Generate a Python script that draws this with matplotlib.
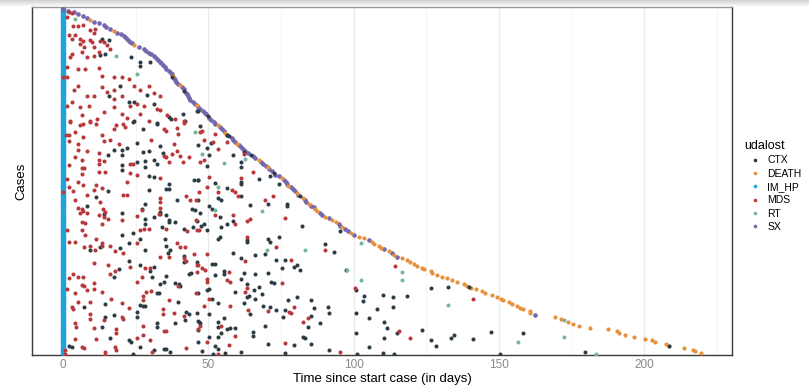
import numpy as np
import matplotlib
matplotlib.use("Agg")
import matplotlib.pyplot as plt
from matplotlib.lines import Line2D

plt.rcParams['font.family'] = ['Liberation Sans', 'DejaVu Sans']

# ---- data: one row per case, case 1 = longest follow-up (bottom) ----
end_day = [219.7, 217.7, 216.9, 213.7, 208.7, 207.6, 203.8, 202.6, 200.5, 196.7,
           193.4, 191.5, 190.6, 187.7, 181.5, 177.7, 175.6, 173.7, 172.5, 171.5,
           169.4, 162.5, 160.8, 160.7, 158.5, 157.3, 156.4, 154.7, 153.6, 151.6,
           150.7, 149.5, 147.8, 145.4, 144.2, 142.0, 140.4, 139.1, 138.0, 135.7,
           134.0, 132.3, 130.6, 128.9, 127.1, 126.5, 124.2, 123.5, 122.0, 120.8,
           119.5, 118.5, 116.8, 115.1, 114.0, 113.1, 112.2, 110.5, 109.4, 108.7,
           107.0, 106.2, 105.3, 103.6, 101.9, 100.1, 99.0, 98.1, 97.2, 96.1,
           95.3, 94.9, 93.8, 92.6, 91.5, 90.3, 89.2, 88.4, 87.5, 86.9,
           86.3, 85.2, 84.6, 83.8, 83.4, 82.5, 81.7, 81.0, 80.5, 80.0,
           79.1, 78.3, 77.6, 77.1, 76.6, 76.0, 75.2, 74.4, 73.1, 72.5,
           71.8, 71.0, 70.4, 69.7, 69.0, 68.2, 67.5, 66.2, 65.4, 64.6,
           63.8, 62.8, 62.0, 61.3, 60.6, 60.0, 59.3, 58.6, 58.0, 57.2,
           56.5, 55.9, 55.3, 54.6, 54.0, 53.4, 52.4, 51.8, 51.0, 50.4,
           49.8, 49.3, 49.0, 48.2, 47.3, 46.6, 46.1, 45.5, 44.6, 43.8,
           43.4, 43.0, 42.6, 42.2, 41.8, 41.5, 40.8, 40.2, 39.6, 39.0,
           38.6, 38.2, 37.8, 37.4, 37.0, 36.4, 35.6, 35.0, 34.4, 33.8,
           33.5, 32.8, 32.0, 31.2, 30.4, 29.6, 28.7, 27.7, 26.0, 24.3,
           23.6, 23.0, 22.3, 21.6, 21.0, 19.8, 18.6, 17.4, 16.0, 14.8,
           14.0, 12.5, 10.8, 9.3, 8.2, 7.0, 5.3, 3.6, 1.8, 0.1]

# last event of each case: D=DEATH, S=SX, C=CTX, R=RT
end_code = ("DDDDDDDDDDDDDDDDDDRDDSDDDDDDDDD"
            "DDDDDDDDDDDDDDDDD"
            "DDDDDSDSDS"
            "DDDDSDDSD"
            "SSDSSDDSDSSDDS"
            "SDSSDCSDS"
            "SSDSSSDSSCSSDS"
            "SSDSSCSS"
            "SSSDSSSCSD"
            "SSSDSSSSCSS"
            "SSSDSSS"
            "SSSSCSSDSS"
            "SSDSSSSSSS"
            "SSSSSSSSSD"
            "SSSSSSSDSS"
            "SSSDSSSSSS")

# other events: (day, case)
mds = [(2.2,188.4),(3.0,187.6),(1.5,185.3),(5,180.7),(3.4,180.4),(7,181),(9.3,178.6),(11,179),
       (10.5,176.7),(2.2,175.6),(4.2,175.6),(5.7,173.5),(7,172.5),(5.7,170.7),(7.3,168.9),
       (9.1,173),(9.9,171.6),(12.8,172.5),(14,171.6),(10.5,168.9),(12.2,166.2),(15.1,170.2),
       (16.2,168),(10.5,164.3),(6.5,166.2),(3,165.2),(2.4,163.4),(8.2,163.4),(1.3,158),
       (5.3,156.7),(7.6,156.7),(12.2,157.4),(13.4,153),(17.4,152.5),(20.3,152.8),(22.6,151.5),
       (5.3,147.9),(8.2,142.4),(10.5,142.1),(13.4,147),(15.1,144.3),(17.4,145.2),(17.4,140.6),
       (20.3,142.4),(24.3,147.9),(26.6,145.7),(29.5,147.9),(31.2,143.9),(33.5,142.4),
       (27.7,136.9),(32.3,135.1),(23.1,136.9),(25.4,137.9),(17.4,136),(14,133.3),(8.8,136.9),
       (5.9,136),(3,138.8),(1.3,136.9),(6.5,131.5),(9.3,128.7),(11.6,129.7),(20.3,132.4),
       (22,130),(26.6,132.4),(29.5,128.7),(33.5,134.2),(35.8,131.5),(38.7,129.7),(41.5,128.2),
       (2.4,128.2),(3.6,145.2),(1.3,152.5),(3,173.5),
       (2.4,127.8),(5.9,126.5),(6.8,126.8),(9.3,128.1),(11.4,126.9),(17.4,124.1),(18.3,126.5),
       (20.6,126.9),(21.2,125.4),(1.1,120.5),(2.2,120.5),(4.2,122.3),(7,119.6),(13.4,120.5),
       (14.2,117.4),(16.2,117.8),(19.1,115.6),(2.2,117.4),(5.3,115.6),(8.2,111.9),(5.3,112.3),
       (12.2,111),(4.2,108.6),(6.5,106.8),(12.2,107.2),(12.2,104.6),(14,106.4),(2.2,104.1),
       (6.5,102.8),(7.3,102.6),(6.5,99.5),(14.5,100.4),(12.2,100.4),(23.1,105),(24,105),
       (23.1,99.9),(22,94.9),(25.4,98.6),(5.3,94.9),(1.3,96.8),(7,93.1),(10.5,90.4),(11.4,93.1),
       (13.4,91.8),(2.2,92.2),(3.4,89.8),(8.2,87.6),(4.2,85.3),(12.6,84),(13.7,80.3),(14.3,78.5),
       (14,75.8),(12.2,76.7),(15.4,74.9),(5.3,80.9),(6.5,80.3),(7,79.1),(5.9,78),(8.2,77.8),
       (6.5,73),(7.6,72.6),(6.5,68.5),(7.6,65.7),(1.3,68.8),(11.4,63.9),(13.4,71.8),(20.8,87.6),
       (22,87.6),(20.3,74.3),(25.4,76.1),(27.2,79.4),(27.7,69),(29.5,69.4),(33.3,86.4),(33.5,84),
       (33.3,80.9),(34.6,109),(35.5,108.6),(36.4,105.9),(37.5,110.4),(39.2,111.9),(40.4,109),
       (43.3,108.6),(41.3,105.9),(38.3,115.6),(39.5,121.4),(39.2,124.7),(41.5,127.2),(34.6,124.1),
       (35.5,123.2),(30.3,118.1),(33.3,97.3),(42.4,87.1),(43.8,85.3),(45.6,84.9),(46.7,89.5),
       (45.6,73.9),(46.7,68.8),(42.7,68.1),(35.5,69.4),(26.6,68.5),(32.9,77.6),
       (2.2,62.1),(4.2,62.1),(7.3,59.3),(9.1,59.7),(13.4,61.2),(13.4,59.8),(11.1,57.9),(16.2,59.7),
       (18,57.2),(20.8,56.1),(25.4,61.2),(10.5,50.6),(15.4,49.3),(16.2,44.7),(18,46.2),(23.1,48.4),
       (25.4,40.2),(27.2,42.6),(28.3,48),(30,48),(33.5,53.9),(36.4,53.9),(39.2,61.5),(40.1,59.3),
       (41.5,53),(42.4,51.7),(45,55.7),(46.4,49.3),(42.1,59.3),(3.4,44.7),(2.2,42),(5.3,42.9),
       (7,42.9),(6.5,38.4),(7.3,37.9),(8.2,35.6),(10.5,39.3),(10.5,36),(13.4,34.7),(4.2,34.2),
       (1.3,36),(5.3,29.2),(9.3,29.2),(3,26.5),(3.4,25.2),(9.1,22.5),(9.3,19.6),(4.2,17.7),
       (4.5,15.2),(10.5,14.6),(14,19.2),(18.3,14.1),(18.3,11.9),(20.3,21),(20.6,19.6),(20.3,28.3),
       (16.5,30.5),(22.6,25.6),(27.5,32.3),(27.5,30.2),(28.7,34.7),(30.3,35.3),(27.5,15.9),
       (27.5,11),(30,8.3),(25.4,9.2),(34.4,25.1),(34.4,22.5),(36.4,30.2),(38.3,23.2),(34.6,13.4),
       (35.5,13.4),(41.8,21.4),(42.4,3.7),(46.1,45.7),(45.6,34.2),(39.5,37.8),(11.4,8.6),(6.5,4.2),
       (7.3,3.7),(4.2,8.6),(14.3,1.9),(14.3,0.2),(18,4.6),(18.3,2.8),(30.6,1.9),(0.8,0.5),(0.8,3),
       (52.4,121.4),(51.5,116.8),(48.4,118.1),(47.8,123.2),(47.1,122.3),(53.3,113.2),(56.4,116.8),
       (62.2,110.4),(47.2,105.9),(48.4,106.8),(65.3,100.4),(50.3,97.6),(61.4,97.3),(49.5,92.2),
       (53.3,89.4),(58.1,90.7),(59.3,89.4),(60.2,87.1),(69.4,84.9),(72.2,87.1),
       (52.4,76.7),(58.4,76.7),(59.3,72.1),(63.3,73.6),(64.5,74.9),(46.1,68.5),(63.3,64.8),
       (49.5,55.7),(62.5,51.7),(46.1,49.3),(48,47.5),(48.7,46.6),(57.2,45.7),(56.4,41.1),
       (57.6,40.2),(49.5,41.5),(49.5,39.8),(50.3,30.5),(57.6,26.9),(63.3,36.5),(62.5,34.7),
       (63.7,24.7),(70.6,24.3),(73.3,59.3),(78.6,52.4),(75.4,39.6),(77.7,23.8),(78.6,23.3),
       (79.4,26.1),(82.5,18.3),(84.4,20.1),(90.3,57.5),(76.5,75.4),(48.4,26.9),(47.2,15.9),
       (46.4,14.1),(54.5,15.9),(59.3,10.4),(57.2,5.5),(49.5,7.3),(53.3,0.6),(76.5,6.4),
       (100.4,36.5),(114.2,48.7),(115.6,13.3),(119.4,9.1),(141.3,31),(95.3,1.8),
       (0,152.8),(0,89.3)]

ctx = [(13.4,173.5),(15.7,173.1),(12.6,164.7),(14.3,165.2),(23.4,163.4),(26.4,160.7),(26.4,158.5),
       (30,160.7),(19.5,147.5),(15.7,142.4),(22.6,138.8),(24.3,138.8),(28.9,142.8),(31.4,137.9),
       (36.4,130.6),(37,129.7),(41.3,132.4),(42.1,128.7),(32.3,127.5),(24.3,128.2),(37.5,152.5),
       (46.1,133.7),
       (24.1,127.8),(27.5,124.1),(32.3,126.9),(25.4,116.3),(22,113.7),(20.3,112.3),(17.4,112.6),
       (15.4,109.5),(20.3,109.5),(20.3,104.1),(20.3,101.7),(25.4,105.9),(27.5,111.4),(29.5,111.9),
       (28.3,106.4),(28.3,103.2),(29.5,98),(31.4,97.7),(32.3,105),(33.3,114.5),(34.4,110.8),
       (31.2,107.2),(15.4,89.8),(11.4,86.7),(29.5,90.7),(35.5,91.3),(36.4,91),(36.4,93.7),
       (39.2,84.9),(28.3,83.1),(27.2,80.3),(33.5,78.5),(33.5,77.5),(35.5,76.7),(36.4,74.3),
       (38.7,73),(36.4,73),(31.4,75.8),(28.3,74.9),(28.3,72.1),(34.1,70.3),(41.5,69.4),(44.7,70.3),
       (46.1,73.6),(44.4,80.3),(45.5,79.4),(46.4,95.9),(45.2,95.9),(24.1,66.7),(26.4,63.9),
       (20.3,78),(14,77.6),(20.3,65.7),(8.2,81.6),(35.2,63.9),
       (9.3,57.9),(12.6,59.3),(19.5,59),(22.6,61.5),(28.3,57.9),(35.5,59.7),(36,56.1),(36.9,57.5),
       (41.8,54.2),(41.8,51.1),(46.1,51.1),(17.4,42.9),(19.1,47),(22.6,51.7),(26.4,49.3),(30,46.2),
       (31.2,48.4),(30.6,42.9),(33.3,38.9),(34.6,40.2),(35.5,43.3),(38.7,39.3),(39.8,38.9),
       (40.4,37.8),(43.3,44.4),(44.1,44.8),(46.4,34.2),(39.5,29.2),(32.3,34.2),(33.1,34.2),
       (26.6,27.4),(27.5,26.9),(28.3,26.9),(25.4,23.8),(25.4,20.7),(17.4,22),(14.5,20.7),(14.3,28),
       (7.3,26.1),(13.4,15.2),(16.2,9.2),(22.6,8.3),(23.4,7.3),(32.3,17.4),(32.3,15.2),(38.7,17.4),
       (42.4,23.8),(43.2,22.5),(42.1,19.2),(46.4,18.8),(46.4,13.7),(26.4,4.2),(24.1,0.3),(2.2,5),
       (3,4.6),(31.2,2.8),(34.6,3.1),(35.5,3.1),(36.7,1.9),
       (46.4,134.1),(47.2,125.9),(46.4,115),(51,116.3),(49.5,113.7),(50.3,109.5),(49.5,104),
       (46.6,96.2),(52.4,94.4),(56.4,91.8),(53.3,86.3),(54.5,85.3),(58.4,109.5),(61.4,105.9),
       (61.4,103.1),(61.4,94.9),(61.4,94),(67.3,96.7),(71.4,98),(74.2,94),(77.1,83),(77.1,81.6),
       (61.4,87.1),(64.5,82.1),(70.6,82.7),(46.4,85.3),(50.3,81.6),(51.2,80.3),(62.2,111.3),
       (56.4,120.5),
       (47.2,78),(54.1,75.8),(47.6,70.7),(48.4,71.8),(49.5,68.8),(54.5,70.3),(56.4,72.1),(58.4,73.6),
       (82.3,70.7),(90.3,60.8),(93.2,56.6),(53.3,63.4),(54.1,64.5),(63.3,63),(63.3,62),(58.4,56.1),
       (66.2,54.8),(69.4,55.3),(70.6,63.4),(71.4,62.1),(73.3,52.4),(76.5,52.4),(74.2,64.8),
       (61.4,53.5),(51.2,50.2),(52.4,49.9),(55.3,46.2),(55.3,44.4),(52.4,43.8),(61.4,41.5),
       (62.2,45.1),(66.2,44.4),(70.6,44.8),(71.7,40.2),(72.5,39.6),(75.4,47.5),(79.4,48.4),
       (80.6,49.3),(81.7,46.6),(67.6,37.1),(65.6,35.6),(63.3,38.9),(63.3,32),(59.3,34.7),(49.5,35.6),
       (50.3,36),(51.2,31),(53.5,28.7),(66.2,30.5),(68.5,33.4),(62.2,28.3),(64.5,22.5),(68.7,26.9),
       (71.4,26.5),(73.3,24.7),(76.5,24.7),(77.5,30.2),(80.6,31.6),(85.5,30.2),(86.3,25.6),
       (91.2,26.1),(91.5,23.2),(85.2,21.4),(84.4,15.6),(88.6,17.7),(75.6,21),(69.4,15.9),(46.1,22.9),
       (50.3,22.5),(46.9,18.3),(47.3,17.7),(53.5,18.3),(53.5,15.2),(55.3,20.1),(56.4,14.1),
       (57.6,14.6),(59.3,14.6),(54.5,11.9),(53.3,10.1),(50.3,10.1),(46.4,7.3),(65.3,12.8),
       (65.3,10.4),(70.6,6),(79.4,5.5),(82.5,9.7),(83.4,9.1),(85.5,6),(91.5,2.8),(52.4,5),(53.5,3.1),
       (48,2.4),(51.5,0.3),(55.6,0.9),(61.4,1.9),(76.3,0.9),(63.9,32.3),
       (95.3,68.1),(97.3,46.9),(101,35.6),(103.6,32.3),(103.3,29.7),(105.3,20.1),(108.2,25.5),
       (110.3,32.8),(110.5,18.2),(111.6,14.6),(113.7,31.6),(113.7,26.5),(118.5,32.3),(115.1,12.2),
       (110.5,9.1),(105.3,4.6),(100.7,22.8),(100.7,11.9),(101.3,0.3),(110.3,0.9),(113.9,0.3),
       (126.6,36.5),(132.5,37.4),(133.5,9.1),(134.6,10.9),(126.6,8.2),(128.3,4.9),(141.3,8.6),
       (147.3,12.8),(150.5,0.5),(139.8,37.4),(123.5,13.7),(158.5,11.9),(179.6,1.4),(208.7,5.2)]

rt = [(4.2,184.4),(18.3,164),(25.4,154.3),(45.3,122.3),(48,110.1),(55.3,105.3),(53.3,92.2),
      (62.5,107.7),(52.4,79.4),(68.5,79.1),(70.2,57.9),(83.4,57.9),(102.4,61.5),(102.7,41),
      (116.6,45.6),(116.6,41),(132.5,27.4),(156.5,7.3),(97.6,46.9),(172.5,10),(183.4,0.3)]

categories = ["CTX", "DEATH", "IM_HP", "MDS", "RT", "SX"]
colors = {"CTX": "#2c3d45", "DEATH": "#e8913c", "IM_HP": "#1ea3dc",
          "MDS": "#b8383b", "RT": "#74b89d", "SX": "#7567ae"}
code_map = {"D": "DEATH", "S": "SX", "C": "CTX", "R": "RT"}

# ---- assemble per category ----
n_cases = len(end_day)
case_id = np.arange(1, n_cases + 1)
end_day = np.array(end_day)
end_cat = np.array([code_map[c] for c in end_code])

pts = {c: ([], []) for c in categories}
pts["IM_HP"] = (list(np.zeros(n_cases)), list(case_id))
for cat, lst in (("MDS", mds), ("CTX", ctx), ("RT", rt)):
    arr = np.array(lst)
    pts[cat] = (list(arr[:, 0]), list(arr[:, 1]))
for cat in ("DEATH", "SX", "CTX", "RT"):
    m = end_cat == cat
    pts[cat][0].extend(end_day[m])
    pts[cat][1].extend(case_id[m])

# ---- plot ----
fig = plt.figure(figsize=(8.09, 3.86), dpi=100)
ax = fig.add_axes([32/809, 31/386, 700/809, 348/386])

draw_order = ["IM_HP", "SX", "DEATH", "CTX", "MDS", "RT"]
size = {"IM_HP": 16, "SX": 11, "DEATH": 9}
for cat in draw_order:
    x, y = pts[cat]
    ax.scatter(x, y, s=size.get(cat, 8.5), color=colors[cat], linewidths=0, zorder=3)

ax.set_xlim(-10.7, 230.3)
ax.set_ylim(0, 191)
ax.set_yticks([])
ax.set_xticks([0, 50, 100, 150, 200])
ax.set_xticks([25, 75, 125, 175, 225], minor=True)
ax.grid(axis='x', which='major', color='#ebebeb', lw=0.9, zorder=0)
ax.grid(axis='x', which='minor', color='#f4f4f4', lw=0.6, zorder=0)
ax.tick_params(axis='x', which='both', length=0, labelsize=8.5, labelcolor='#8a8a8a', pad=3)
for sp in ax.spines.values():
    sp.set_color('#3a3a3a')
    sp.set_linewidth(1.0)
ax.spines['top'].set_color('#9a9a9a')

ax.set_xlabel("Time since start case (in days)", fontsize=9.5, labelpad=1)
ax.set_ylabel("Cases", fontsize=9.5, labelpad=3)

handles = [Line2D([], [], marker='o', ls='', ms=2.6, mec='none', color=colors[c]) for c in categories]
leg = fig.legend(handles, categories, title="udalost", loc='upper left',
                 bbox_to_anchor=(744/809, 1 - 140/386), frameon=False,
                 fontsize=7.5, title_fontsize=9, handletextpad=0.05,
                 labelspacing=0.32, borderaxespad=0, borderpad=0, handlelength=2.2)
leg._legend_box.align = "left"

# grey strip at top of the screenshot
band = fig.add_axes([0, 1 - 6/386, 1, 6/386])
band.imshow(np.linspace(0.82, 0.97, 20).reshape(-1, 1), cmap='gray', vmin=0, vmax=1,
            aspect='auto', extent=(0, 1, 0, 1))
band.axis('off')

fig.savefig("out.png", dpi=100)
